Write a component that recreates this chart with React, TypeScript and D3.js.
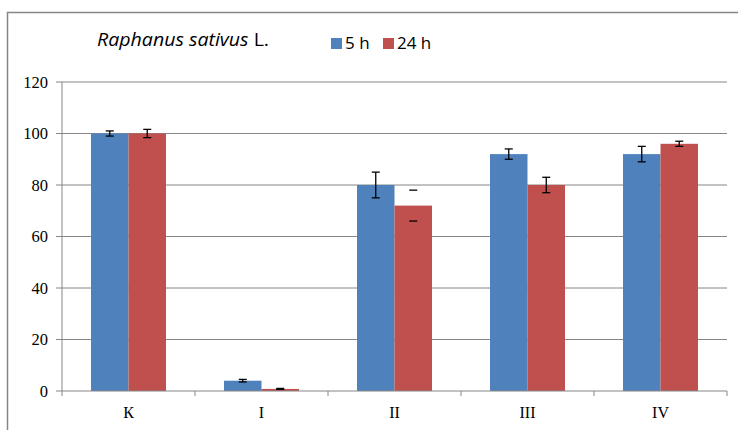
import React from "react";
import * as d3 from "d3";

const categories = ["К", "I", "II", "III", "IV"];
const series5h = [100, 4, 80, 92, 92];
const series24h = [100, 0.8, 72, 80, 96];
const err5h = [1, 0.5, 5, 2, 3];
const err24h = [1.6, 0.2, 6, 3, 1];
const yTicks = [0, 20, 40, 60, 80, 100, 120];
const seriesNames = ["5 h", "24 h"];
const colors = ["#4F81BD", "#C0504D"];
// error bars whose stem is not drawn in the reference
const hideStem24h = [false, false, true, false, false];

export default function App() {
  const W = 738, H = 430;
  const left = 62, right = 727, top = 82, bottom = 391;
  const x = d3.scaleBand<string>().domain(categories).range([left, right]).paddingInner(0).paddingOuter(0);
  const y = d3.scaleLinear().domain([0, 120]).range([bottom, top]);
  const bw = x.bandwidth();
  const barW = 37.5;
  const groupW = barW * 2;
  const series = [series5h, series24h];
  const errs = [err5h, err24h];

  return (
    <svg width={W} height={H} style={{ position: "absolute", left: 0, top: 0, background: "#fff" }}>
      <rect x={7.5} y={12.5} width={W} height={H} fill="#fff" stroke="#868686" strokeWidth={1.5} />
      {yTicks.map((t) => (
        <g key={t}>
          {t > 0 && <line x1={left} x2={right} y1={y(t)} y2={y(t)} stroke="#868686" strokeWidth={1} />}
          <line x1={left - 6} x2={left} y1={y(t)} y2={y(t)} stroke="#868686" strokeWidth={1} />
          <text x={left - 14} y={y(t)} dy="0.35em" textAnchor="end" fontFamily="Liberation Serif" fontSize={16.5} fill="#000">
            {t}
          </text>
        </g>
      ))}
      {categories.map((c, i) => {
        const gx = (x(c) as number) + (bw - groupW) / 2;
        return (
          <g key={c}>
            {series.map((s, k) => {
              const bx = gx + k * barW;
              const v = s[i];
              return (
                <rect key={k} x={bx} y={y(v)} width={barW} height={y(0) - y(v)} fill={colors[k]} />
              );
            })}
            {series.map((s, k) => {
              const cx = gx + k * barW + barW / 2;
              const v = s[i];
              const e = errs[k][i];
              const hide = k === 1 && hideStem24h[i];
              return (
                <g key={"e" + k} stroke="#000" strokeWidth={1.3}>
                  {!hide && <line x1={cx} x2={cx} y1={y(v + e)} y2={y(v - e)} />}
                  <line x1={cx - 4} x2={cx + 4} y1={y(v + e)} y2={y(v + e)} />
                  <line x1={cx - 4} x2={cx + 4} y1={y(v - e)} y2={y(v - e)} />
                </g>
              );
            })}
            <text x={(x(c) as number) + bw / 2} y={418} textAnchor="middle" fontFamily="Liberation Serif" fontSize={16} fill="#000">
              {c}
            </text>
          </g>
        );
      })}
      <line x1={left} x2={left} y1={top} y2={bottom} stroke="#868686" strokeWidth={1} />
      <line x1={left} x2={right} y1={bottom} y2={bottom} stroke="#868686" strokeWidth={1} />
      {[...categories.map((c) => x(c) as number), right].map((tx, i) => (
        <line key={i} x1={tx} x2={tx} y1={bottom} y2={bottom + 5} stroke="#868686" strokeWidth={1} />
      ))}
      <text x={97} y={46} fontFamily="Open Sans" fontSize={18.5} fill="#000" textLength={172} lengthAdjust="spacingAndGlyphs">
        <tspan fontStyle="italic">Raphanus sativus</tspan>
        <tspan> L.</tspan>
      </text>
      {seriesNames.map((n, k) => {
        const lx = [331, 383][k];
        return (
          <g key={n}>
            <rect x={lx} y={38} width={11} height={11} fill={colors[k]} />
            <text x={lx + 14} y={49} fontFamily="Open Sans" fontSize={17} fill="#000">
              {n}
            </text>
          </g>
        );
      })}
    </svg>
  );
}
